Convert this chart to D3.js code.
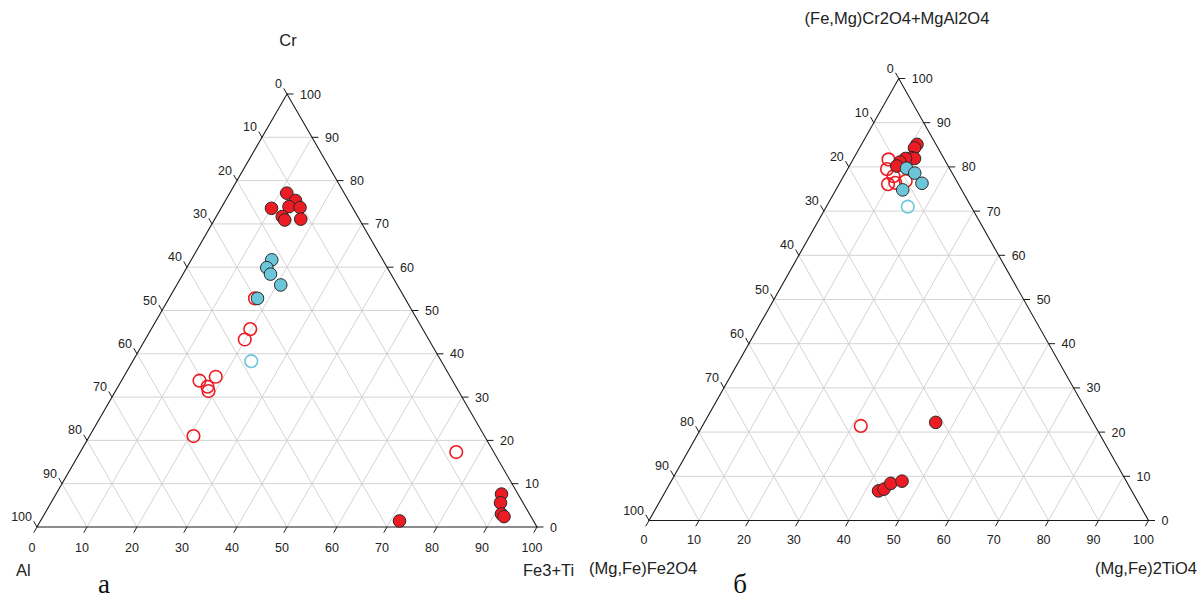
<!DOCTYPE html>
<html><head><meta charset="utf-8">
<script src="https://cdn.jsdelivr.net/npm/d3@7"></script>
<style>body{margin:0;background:#fff}svg{display:block}</style>
</head><body>
<svg id="c" width="1201" height="614"></svg>
<script>
// ---- data ----
const tickValues = [0,10,20,30,40,50,60,70,80,90,100];

// Diagram "а": vertices Cr (top), Al (bottom-left), Fe3+Ti (bottom-right); values [Cr %, Fe3+Ti %]
const aRedOpen = [[52.8,17.2],[45.7,19.8],[43.3,19.9],[33.8,15.6],[34.7,18.4],[32.4,17.9],[31.4,18.6],[21.0,20.8],[17.3,75.2]];
const aCyanOpen = [[38.3,23.7]];
const aRedFilled = [[77.1,11.4],[75.4,14.0],[73.6,10.1],[74.0,13.4],[73.8,15.7],[71.7,13.2],[70.9,14.1],[71.1,17.2],
                    [1.4,71.8],[7.6,89.1],[5.6,89.9],[3.0,91.4],[2.4,92.2]];
const aCyanFilled = [[61.7,16.1],[59.9,16.0],[58.4,17.5],[55.9,20.8],[52.8,17.7]];

// Diagram "б": vertices (Fe,Mg)Cr2O4+MgAl2O4 (top), (Mg,Fe)Fe2O4 (bottom-left), (Mg,Fe)2TiO4 (bottom-right); values [top %, TiO4 %]
const bRedOpen = [[81.7,7.1],[79.5,7.9],[76.1,9.8],[76.4,11.1],[76.8,13.0],[77.9,10.0],[21.4,31.7]];
const bCyanOpen = [[71.0,16.3]];
const bRedFilled = [[85.1,11.1],[84.3,11.0],[82.1,11.6],[81.9,12.2],[81.9,10.4],[81.1,9.7],[80.2,9.5],
                    [22.2,46.3],[6.7,42.6],[7.1,43.5],[8.4,44.2],[8.9,46.2]];
const bCyanFilled = [[79.7,11.7],[78.6,13.9],[76.3,16.5],[74.8,13.4]];

const aTitles = {top:"Cr", left:"Al", right:"Fe3+Ti", letter:"а"};
const bTitles = {top:"(Fe,Mg)Cr2O4+MgAl2O4", left:"(Mg,Fe)Fe2O4", right:"(Mg,Fe)2TiO4", letter:"б"};

// ---- styles ----
const RED = "#ed1c24", CYAN = "#6cc6d9";
const svg = d3.select("#c");
const FONT = "'Liberation Sans', Arial, sans-serif";

function drawTernary(cfg, titles, redOpen, cyanOpen, redFilled, cyanFilled) {
  const g = svg.append("g");
  const x = d3.scaleLinear().domain([0,100]).range([cfg.x0, cfg.x1]);
  const y = d3.scaleLinear().domain([0,100]).range([cfg.yBase, cfg.yTop]);
  const P = (top, right) => [x(right + top/2), y(top)];
  const line = d3.line();

  // grid
  const grid = [];
  for (let v = 10; v <= 90; v += 10) {
    grid.push([P(v,0), P(v,100-v)]);          // constant top
    grid.push([P(0,v), P(100-v,v)]);          // constant right
    grid.push([P(0,100-v), P(100-v,0)]);      // constant left
  }
  g.selectAll(".grid").data(grid).enter().append("path")
    .attr("d", d => line(d)).attr("stroke", "#cfcfcf").attr("stroke-width", 0.9).attr("fill", "none");

  // frame
  g.append("path").attr("d", line([P(0,0), P(0,100), P(100,0)]) + "Z")
    .attr("fill","none").attr("stroke","#1a1a1a").attr("stroke-width",1.1);

  const t = 1.3;
  // ticks
  const tk = [];
  tickValues.forEach(v => {
    tk.push([P(0,v), P(-t,v)]);                 // bottom (right component)
    tk.push([P(v,100-v), P(v,100-v+t)]);        // right side (top component)
    tk.push([P(100-v,0), P(100-v+t,-t)]);       // left side (left component)
  });
  g.selectAll(".tk").data(tk).enter().append("path")
    .attr("d", d => line(d)).attr("stroke","#1a1a1a").attr("stroke-width",1);

  const lab = g.append("g").attr("font-family", FONT).attr("font-size", 12.5).attr("fill", "#222");
  lab.selectAll(".bl").data(tickValues).enter().append("text")
    .attr("x", v => P(0,v)[0] - 5).attr("y", cfg.yBase + cfg.bDy)
    .attr("text-anchor","middle").text(v => v);
  lab.selectAll(".rl").data(tickValues).enter().append("text")
    .attr("x", v => P(v,100-v)[0] + 13).attr("y", v => P(v,100-v)[1] + 4.5)
    .attr("text-anchor","start").text(v => v);
  lab.selectAll(".ll").data(tickValues).enter().append("text")
    .attr("x", v => P(100-v,0)[0] - 5).attr("y", v => P(100-v,0)[1] - 6)
    .attr("text-anchor","end").text(v => v);

  // titles
  const tt = g.append("g").attr("font-family", FONT).attr("font-size", 16.5).attr("fill", "#222");
  tt.append("text").attr("x", cfg.topX).attr("y", cfg.topY).attr("text-anchor","middle").text(titles.top);
  tt.append("text").attr("x", cfg.leftX).attr("y", cfg.cornerY).attr("text-anchor","start").text(titles.left);
  tt.append("text").attr("x", cfg.rightX).attr("y", cfg.cornerY).attr("text-anchor", cfg.rightAnchor).text(titles.right);
  g.append("text").attr("x", cfg.letterX).attr("y", 593).attr("text-anchor","middle")
    .attr("font-family","'Liberation Serif','Times New Roman',serif").attr("font-size",27).attr("fill","#111")
    .text(titles.letter);

  // points
  const r = 6.3;
  const pts = g.append("g");
  pts.selectAll(".ro").data(redOpen).enter().append("circle")
    .attr("cx", d => P(d[0],d[1])[0]).attr("cy", d => P(d[0],d[1])[1]).attr("r", r)
    .attr("fill","none").attr("stroke",RED).attr("stroke-width",1.6);
  pts.selectAll(".co").data(cyanOpen).enter().append("circle")
    .attr("cx", d => P(d[0],d[1])[0]).attr("cy", d => P(d[0],d[1])[1]).attr("r", r)
    .attr("fill","none").attr("stroke",CYAN).attr("stroke-width",1.6);
  pts.selectAll(".rf").data(redFilled).enter().append("circle")
    .attr("cx", d => P(d[0],d[1])[0]).attr("cy", d => P(d[0],d[1])[1]).attr("r", r)
    .attr("fill",RED).attr("stroke","#2a2a2a").attr("stroke-width",1);
  pts.selectAll(".cf").data(cyanFilled).enter().append("circle")
    .attr("cx", d => P(d[0],d[1])[0]).attr("cy", d => P(d[0],d[1])[1]).attr("r", r)
    .attr("fill",CYAN).attr("stroke","#2a2a2a").attr("stroke-width",1);
}

drawTernary({x0:37, x1:537, yBase:527, yTop:94, bDy:25, topX:288, topY:46, leftX:16, rightX:523, rightAnchor:"start", cornerY:576, letterX:104},
  aTitles, aRedOpen, aCyanOpen, aRedFilled, aCyanFilled);
drawTernary({x0:649, x1:1148.5, yBase:520.5, yTop:78.5, bDy:23, topX:897, topY:24, leftX:589, rightX:1197, rightAnchor:"end", cornerY:574, letterX:740},
  bTitles, bRedOpen, bCyanOpen, bRedFilled, bCyanFilled);
</script>
</body></html>
